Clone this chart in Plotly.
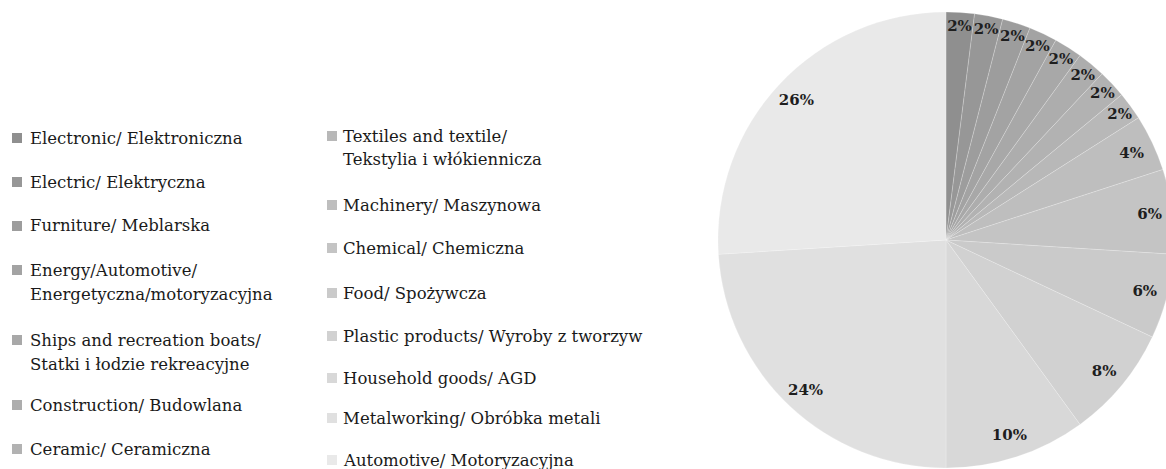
import plotly.graph_objects as go

# ---- data ----
categories = [
    "Electronic/ Elektroniczna",
    "Electric/ Elektryczna",
    "Furniture/ Meblarska",
    "Energy/Automotive/\nEnergetyczna/motoryzacyjna",
    "Ships and recreation boats/\nStatki i łodzie rekreacyjne",
    "Construction/ Budowlana",
    "Ceramic/ Ceramiczna",
    "Textiles and textile/\nTekstylia i włókiennicza",
    "Machinery/ Maszynowa",
    "Chemical/ Chemiczna",
    "Food/ Spożywcza",
    "Plastic products/ Wyroby z tworzyw",
    "Household goods/ AGD",
    "Metalworking/ Obróbka metali",
    "Automotive/ Motoryzacyjna",
]
values = [2, 2, 2, 2, 2, 2, 2, 2, 4, 6, 6, 8, 10, 24, 26]

# ---- styles ----
colors = [
    "#8f8f8f", "#979797", "#9d9d9d", "#a3a3a3", "#a8a8a8",
    "#adadad", "#b2b2b2", "#b8b8b8", "#bebebe", "#c4c4c4",
    "#cacaca", "#d1d1d1", "#d8d8d8", "#e0e0e0", "#e9e9e9",
]
W, H = 1174, 469   # slightly wider than the window so the pie is cut at the right edge
# legend layout (screen pixel positions of the first text line of each item)
legend_col = [0] * 7 + [1] * 8
legend_y = [138, 182, 226, 270, 340, 405, 449,
            136, 205, 248, 293, 336, 378, 418, 460]
col_marker_x = [12, 327]
col_text_x = [28, 341]
line_step = 24

# pie: screen centre (946, 240), radius 228
cx, cy, r = 946, 240, 228
pie_dom_x = [(cx - r) / W, min(1.0, (cx + r) / W)]
pie_dom_y = [1 - (cy + r) / H, 1 - (cy - r) / H]

fig = go.Figure()
fig.add_trace(go.Pie(
    labels=[c.replace("\n", " ") for c in categories],
    values=values,
    sort=False,
    direction="clockwise",
    rotation=0,
    marker=dict(colors=colors, line=dict(color="rgba(255,255,255,0.35)", width=0.6)),
    textinfo="none",
    hoverinfo="label+percent",
    domain=dict(x=pie_dom_x, y=pie_dom_y),
    showlegend=False,
))
# transparent ring carrying the percentage labels near the rim
fig.add_trace(go.Pie(
    labels=[c.replace("\n", " ") for c in categories],
    values=values,
    sort=False,
    direction="clockwise",
    rotation=0,
    hole=0.8,
    marker=dict(colors=["rgba(0,0,0,0)"] * len(values), line=dict(width=0)),
    texttemplate="%{percent:.0%}",
    textposition="inside",
    insidetextorientation="horizontal",
    textfont=dict(family="DejaVu Serif", size=15, color="#1e1e1e", weight="bold"),
    hoverinfo="skip",
    domain=dict(x=pie_dom_x, y=pie_dom_y),
    showlegend=False,
))

# manual two-column legend
shapes = []
annotations = []
for i, cat in enumerate(categories):
    col = legend_col[i]
    y0 = legend_y[i]
    mx = col_marker_x[col]
    shapes.append(dict(
        type="rect", xref="paper", yref="paper",
        x0=mx / W, x1=(mx + 10) / W,
        y0=1 - (y0 + 5) / H, y1=1 - (y0 - 5) / H,
        fillcolor=colors[i], line=dict(width=0),
    ))
    for k, line in enumerate(cat.split("\n")):
        annotations.append(dict(
            text=line, xref="paper", yref="paper",
            x=col_text_x[col] / W, y=1 - (y0 + k * line_step) / H,
            xanchor="left", yanchor="middle", showarrow=False,
            font=dict(family="DejaVu Serif", size=16.5, color="#1a1a1a"),
        ))

fig.update_layout(
    width=W, height=H,
    margin=dict(l=0, r=0, t=0, b=0),
    paper_bgcolor="white",
    plot_bgcolor="white",
    shapes=shapes,
    annotations=annotations,
    uniformtext=dict(minsize=15, mode="show"),
)

fig.write_html(
    "out.html",
    config={"displayModeBar": False},
    post_script="document.body.style.margin='0';document.body.style.overflow='hidden';",
)
